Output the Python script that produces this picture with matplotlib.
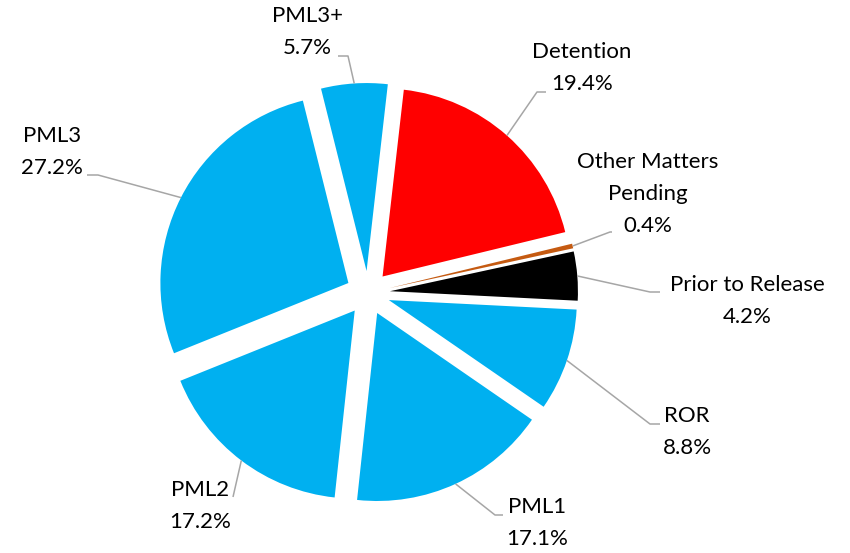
import numpy as np
import matplotlib
matplotlib.use("Agg")
import matplotlib.pyplot as plt

plt.rcParams['font.family'] = ['Lato', 'DejaVu Sans']

# data
labels = ['Detention', 'Other Matters\nPending', 'Prior to Release', 'ROR',
          'PML1', 'PML2', 'PML3', 'PML3+']
shares = [19.4, 0.4, 4.2, 8.8, 17.1, 17.2, 27.2, 5.7]
colors = ['#FF0000', '#C55A11', '#000000', '#00B0F0',
          '#00B0F0', '#00B0F0', '#00B0F0', '#00B0F0']

# layout (pixels of the 850x553 canvas): pie centre, radius, label anchors
W, H = 850, 553
CX, CY, R = 368, 293, 188
explode_px = 22
# elbow of leader line, end of horizontal stub, label centre
leaders = [
    ((537, 92), (546, 92), (582, 68)),
    ((610, 232), (612, 232), (648, 194)),
    ((650, 292), (660, 292), (747, 301)),
    ((650, 424), (660, 424), (687, 432)),
    ((495, 515), (503, 515), (537, 523)),
    ((233, 497), (233, 497), (200, 506)),
    ((98, 175), (87, 175), (52, 152)),
    ((348, 56), (338, 56), (307, 32)),
]


def px(p):
    return (p[0] - CX) / R, (CY - p[1]) / R


fig = plt.figure(figsize=(W / 100, H / 100), dpi=100)
ax = fig.add_axes([0, 0, 1, 1])

ex = explode_px / R
wedges, _ = ax.pie(shares, colors=colors, explode=[ex] * len(shares),
                   startangle=83.5, counterclock=False, radius=1,
                   wedgeprops=dict(linewidth=0))

for w, lab, val, (elbow, stub, tc) in zip(wedges, labels, shares, leaders):
    mid = np.deg2rad((w.theta1 + w.theta2) / 2)
    c = w.center
    start = (c[0] + np.cos(mid), c[1] + np.sin(mid))
    e = px(elbow)
    s = px(stub)
    ax.plot([start[0], e[0], s[0]], [start[1], e[1], s[1]],
            color='#A6A6A6', lw=1.1, solid_capstyle='butt')
    tx, ty = px(tc)
    ax.text(tx, ty, f'{lab}\n{val}%', ha='center', va='center',
            fontsize=16, linespacing=1.75, color='#000000')

ax.set_xlim(-CX / R, (W - CX) / R)
ax.set_ylim(-(H - CY) / R, CY / R)
ax.set_aspect('auto')
ax.axis('off')

fig.savefig('out.png', dpi=100, facecolor='white')
